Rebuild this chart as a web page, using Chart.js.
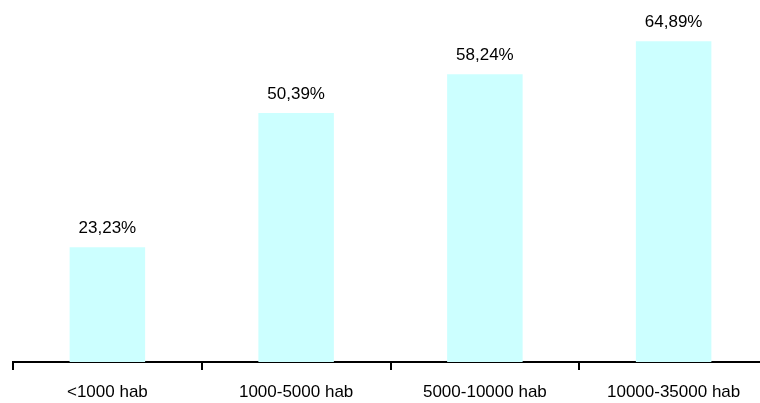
<!DOCTYPE html>
<html>
<head>
<meta charset="utf-8">
<script src="https://cdn.jsdelivr.net/npm/chart.js@4"></script>
<style>
html,body{margin:0;padding:0;background:#fff;overflow:hidden;width:760px;height:403px;}
canvas{display:block;}
</style>
</head>
<body>
<canvas id="c" width="768" height="403"></canvas>
<script>
const categories = ["<1000 hab", "1000-5000 hab", "5000-10000 hab", "10000-35000 hab"];
const values = [23.23, 50.39, 58.24, 64.89];
const valueLabels = ["23,23%", "50,39%", "58,24%", "64,89%"];

const FONT = "Arial, 'Liberation Sans', sans-serif";

const labelPlugin = {
  id: 'valueLabels',
  afterDatasetsDraw(chart) {
    const ctx = chart.ctx;
    const meta = chart.getDatasetMeta(0);
    ctx.save();
    ctx.font = "17px " + FONT;
    ctx.fillStyle = "#000";
    ctx.textAlign = "center";
    ctx.textBaseline = "alphabetic";
    meta.data.forEach((bar, i) => {
      ctx.fillText(valueLabels[i], bar.x, bar.y - 14);
    });
    ctx.restore();
  }
};

new Chart(document.getElementById('c'), {
  type: 'bar',
  data: {
    labels: categories,
    datasets: [{
      data: values,
      backgroundColor: '#CCFFFF',
      borderWidth: 0,
      barPercentage: 0.4,
      categoryPercentage: 1.0
    }]
  },
  options: {
    responsive: false,
    animation: false,
    devicePixelRatio: 1,
    layout: { padding: { left: 13, right: 0, top: 16, bottom: 0 } },
    plugins: { legend: { display: false }, tooltip: { enabled: false } },
    scales: {
      x: {
        offset: true,
        grid: {
          offset: true,
          drawOnChartArea: false,
          drawTicks: true,
          tickLength: 8,
          tickColor: '#000',
          lineWidth: 2
        },
        border: { display: true, color: '#000', width: 2 },
        ticks: {
          color: '#000',
          font: { family: FONT, size: 17 },
          padding: 12,
          maxRotation: 0,
          autoSkip: false
        },
        afterFit(s) { s.height = 41; }
      },
      y: {
        display: false,
        min: 0,
        max: 70
      }
    }
  },
  plugins: [labelPlugin]
});
</script>
</body>
</html>
